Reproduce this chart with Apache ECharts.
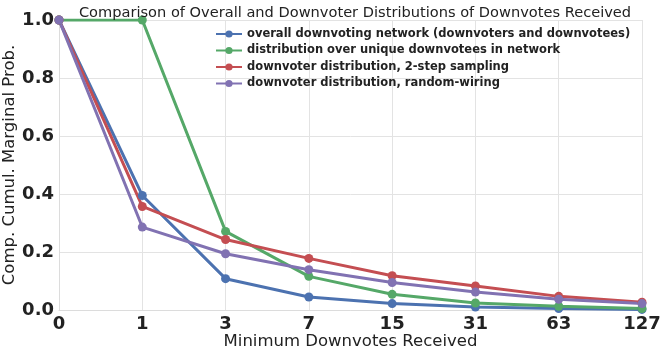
<!DOCTYPE html>
<html>
<head>
<meta charset="utf-8">
<script src="https://cdn.jsdelivr.net/npm/echarts@6/dist/echarts.min.js"></script>
<style>
  html, body { margin: 0; padding: 0; background: #fff; }
  #chart { width: 664px; height: 354px; }
</style>
</head>
<body>
<div id="chart"></div>
<script>
// minimum downvotes received (log2 spaced)
const categories = ['0', '1', '3', '7', '15', '31', '63', '127'];

const overallNetwork = [1.0, 0.395, 0.108, 0.045, 0.022, 0.010, 0.005, 0.002];
const uniqueDownvotees = [1.0, 1.0, 0.271, 0.116, 0.054, 0.024, 0.013, 0.005];
const twoStepSampling = [1.0, 0.357, 0.243, 0.178, 0.118, 0.083, 0.047, 0.027];
const randomWiring = [1.0, 0.286, 0.194, 0.139, 0.095, 0.062, 0.037, 0.022];

const seriesNames = [
  'overall downvoting network (downvoters and downvotees)',
  'distribution over unique downvotees in network',
  'downvoter distribution, 2-step sampling',
  'downvoter distribution, random-wiring'
];
const colors = ['#4C72B0', '#55A868', '#C44E52', '#8172B2'];

const chart = echarts.init(document.getElementById('chart'));

function makeSeries(name, data, color) {
  return {
    name: name,
    type: 'line',
    data: data,
    symbol: 'circle',
    symbolSize: 9,
    lineStyle: { width: 3, color: color },
    itemStyle: { color: color },
    emphasis: { disabled: true }
  };
}

chart.setOption({
  animation: false,
  textStyle: { fontFamily: 'DejaVu Sans' },
  title: {
    text: 'Comparison of Overall and Downvoter Distributions of Downvotes Received',
    left: 350,
    textAlign: 'center',
    top: 1,
    textStyle: { fontSize: 14.6, fontWeight: 'normal', color: '#222', fontFamily: 'DejaVu Sans' }
  },
  legend: {
    orient: 'vertical',
    left: 210,
    top: 23,
    itemWidth: 26,
    itemHeight: 9,
    itemGap: 4.5,
    data: seriesNames,
    textStyle: { fontSize: 11.5, fontWeight: 'bold', color: '#222', fontFamily: 'DejaVu Sans' }
  },
  grid: { left: 59, right: 22, top: 20, bottom: 44, outerBoundsMode: 'none', containLabel: false },
  xAxis: {
    type: 'category',
    data: categories,
    boundaryGap: false,
    name: 'Minimum Downvotes Received',
    nameLocation: 'middle',
    nameGap: 23,
    nameMoveOverlap: false,
    nameTextStyle: { fontSize: 16.5, color: '#222' },
    axisLine: { show: true, lineStyle: { color: '#dcdcdc' } },
    axisTick: { show: false },
    axisLabel: { fontSize: 18, fontWeight: 'bold', color: '#222', margin: 5 },
    splitLine: { show: true, lineStyle: { color: '#e3e3e3' } }
  },
  yAxis: {
    type: 'value',
    min: 0,
    max: 1,
    interval: 0.2,
    name: 'Comp. Cumul. Marginal Prob.',
    nameLocation: 'middle',
    nameGap: 41,
    nameMoveOverlap: false,
    nameTextStyle: { fontSize: 16.5, color: '#222' },
    axisLine: { show: true, lineStyle: { color: '#dcdcdc' } },
    axisTick: { show: false },
    axisLabel: {
      fontSize: 18, fontWeight: 'bold', color: '#222', margin: 5,
      formatter: v => v.toFixed(1)
    },
    splitLine: { show: true, lineStyle: { color: '#e3e3e3' } }
  },
  series: [
    makeSeries(seriesNames[0], overallNetwork, colors[0]),
    makeSeries(seriesNames[1], uniqueDownvotees, colors[1]),
    makeSeries(seriesNames[2], twoStepSampling, colors[2]),
    makeSeries(seriesNames[3], randomWiring, colors[3])
  ]
});
</script>
</body>
</html>
